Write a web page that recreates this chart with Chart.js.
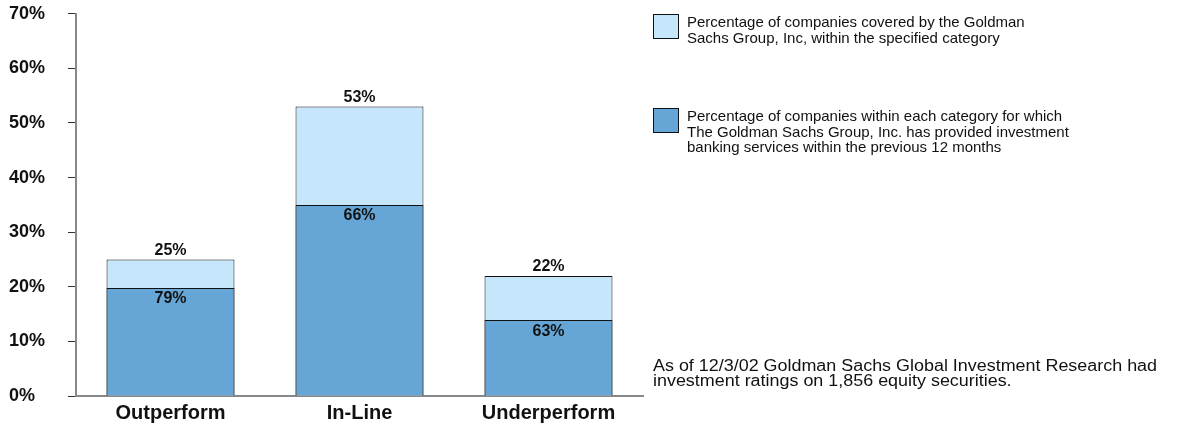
<!DOCTYPE html>
<html>
<head>
<meta charset="utf-8">
<script src="https://cdn.jsdelivr.net/npm/chart.js@4.4.0/dist/chart.umd.min.js"></script>
<style>
  html, body { margin: 0; padding: 0; background: #fff; }
  #wrap { position: relative; width: 1195px; height: 425px; font-family: "Liberation Sans", Arial, Helvetica, sans-serif; color: #111; }
  #c { position: absolute; left: 0; top: 0; }
  .lg { position: absolute; left: 653px; display: flex; align-items: flex-start; }
  .sw { width: 24px; height: 23px; border: 1px solid #111; flex: none; }
  .lt { margin-left: 8px; font-size: 15px; line-height: 15.5px; }
  #note { position: absolute; left: 653px; top: 358px; font-size: 16px; line-height: 15px; white-space: nowrap; transform: scaleX(1.12); transform-origin: left top; }
</style>
</head>
<body>
<div id="wrap">
  <canvas id="c" width="1195" height="425"></canvas>
  <div class="lg" style="top:14px"><div class="sw" id="sw1"></div><div class="lt" id="lt1"></div></div>
  <div class="lg" style="top:108px"><div class="sw" id="sw2"></div><div class="lt" id="lt2"></div></div>
  <div id="note"></div>
</div>
<script>
// ---- data ----
const categories = ["Outperform", "In-Line", "Underperform"];
const coveredPct = [25, 53, 22];          // light bars: % of companies covered
const ibHeights = [19.8, 35.0, 13.9];     // dark bars: height
const ibLabels = ["79%", "66%", "63%"];   // printed inside dark bars
const coveredLabels = ["25%", "53%", "22%"];
const yTicks = [0, 10, 20, 30, 40, 50, 60, 70];
const legendTexts = [
  ["Percentage of companies covered by the Goldman", "Sachs Group, Inc, within the specified category"],
  ["Percentage of companies within each category for which", "The Goldman Sachs Group, Inc. has provided investment", "banking services within the previous 12 months"]
];
const noteLines = ["As of 12/3/02 Goldman Sachs Global Investment Research had", "investment ratings on 1,856 equity securities."];

const LIGHT = "#C6E6FC";
const DARK = "#66A6D6";
const FONT = "'Liberation Sans', Arial, Helvetica, sans-serif";

document.getElementById('sw1').style.background = LIGHT;
document.getElementById('sw2').style.background = DARK;
document.getElementById('lt1').innerHTML = legendTexts[0].join('<br>');
document.getElementById('lt2').innerHTML = legendTexts[1].join('<br>');
document.getElementById('note').innerHTML = noteLines.join('<br>');

const labelPlugin = {
  id: 'barLabels',
  afterDatasetsDraw(chart) {
    const ctx = chart.ctx;
    ctx.save();
    ctx.font = "bold 16px " + FONT;
    ctx.fillStyle = "#111";
    ctx.textAlign = "center";
    chart.getDatasetMeta(1).data.forEach((bar, i) => {
      ctx.textBaseline = "bottom";
      ctx.fillText(coveredLabels[i], bar.x, bar.y - 1);
    });
    chart.getDatasetMeta(0).data.forEach((bar, i) => {
      ctx.textBaseline = "top";
      ctx.fillText(ibLabels[i], bar.x, bar.y + 3);
    });
    ctx.restore();
  }
};

new Chart(document.getElementById('c'), {
  type: 'bar',
  data: {
    labels: categories,
    datasets: [
      { label: legendTexts[1].join(' '), data: ibHeights, backgroundColor: DARK, borderColor: "#111", borderWidth: 1 },
      { label: legendTexts[0].join(' '), data: coveredPct, backgroundColor: LIGHT, borderColor: "#111", borderWidth: 1 }
    ]
  },
  options: {
    responsive: false,
    animation: false,
    events: [],
    layout: { padding: { left: 9, right: 552, top: 8, bottom: 0 } },
    datasets: { bar: { grouped: false, categoryPercentage: 1, barPercentage: 0.677 } },
    plugins: { legend: { display: false }, tooltip: { enabled: false } },
    scales: {
      x: {
        afterFit(scale) { scale.height = 29; },
        grid: { display: false },
        border: { display: true, color: "#888", width: 2 },
        ticks: { color: "#111", font: { family: FONT, size: 20, weight: 'bold' }, padding: -3 }
      },
      y: {
        min: 0, max: 70,
        afterBuildTicks(scale) { scale.ticks = yTicks.map(v => ({ value: v })); },
        afterFit(scale) { scale.width = 67; },
        grid: { drawOnChartArea: false, drawTicks: true, tickLength: 8, color: "#333", lineWidth: 1 },
        border: { display: true, color: "#888", width: 2 },
        ticks: { color: "#111", crossAlign: 'far', font: { family: FONT, size: 18, weight: 'bold' }, callback: v => v + "%" }
      }
    }
  },
  plugins: [labelPlugin]
});
</script>
</body>
</html>
